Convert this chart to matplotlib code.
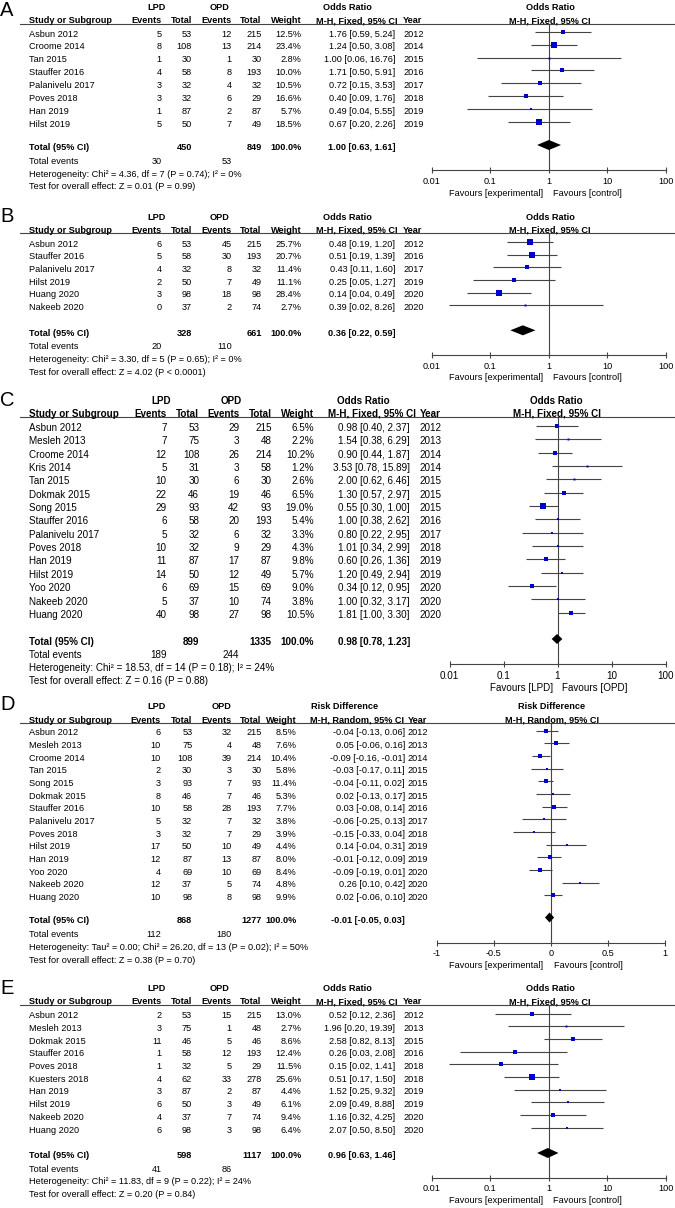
import matplotlib
matplotlib.use("Agg")
import matplotlib.pyplot as plt
from matplotlib.ticker import FixedLocator, NullLocator

plt.rcParams['font.family'] = ['Liberation Sans', 'DejaVu Sans']

W, H = 675, 1208
BLUE = '#0000cc'
GREY = '#444444'

# ---------------- panel A: odds ratio, M-H fixed ----------------
a_study = ["Asbun 2012", "Croome 2014", "Tan 2015", "Stauffer 2016",
           "Palanivelu 2017", "Poves 2018", "Han 2019", "Hilst 2019"]
a_lpd_ev = [5, 8, 1, 4, 3, 3, 1, 5]
a_lpd_n = [53, 108, 30, 58, 32, 32, 87, 50]
a_opd_ev = [12, 13, 1, 8, 4, 6, 2, 7]
a_opd_n = [215, 214, 30, 193, 32, 29, 87, 49]
a_weight = [12.5, 23.4, 2.8, 10.0, 10.5, 16.6, 5.7, 18.5]
a_est = [1.76, 1.24, 1.00, 1.71, 0.72, 0.40, 0.49, 0.67]
a_lo = [0.59, 0.50, 0.06, 0.50, 0.15, 0.09, 0.04, 0.20]
a_hi = [5.24, 3.08, 16.76, 5.91, 3.53, 1.76, 5.55, 2.26]
a_year = [2012, 2014, 2015, 2016, 2017, 2018, 2019, 2019]
a_total = [450, 849, 1.00, 0.63, 1.61]
a_events = [30, 53]
a_het = "Heterogeneity: Chi² = 4.36, df = 7 (P = 0.74); I² = 0%"
a_test = "Test for overall effect: Z = 0.01 (P = 0.99)"

# ---------------- panel B ----------------
b_study = ["Asbun 2012", "Stauffer 2016", "Palanivelu 2017", "Hilst 2019",
           "Huang 2020", "Nakeeb 2020"]
b_lpd_ev = [6, 5, 4, 2, 3, 0]
b_lpd_n = [53, 58, 32, 50, 98, 37]
b_opd_ev = [45, 30, 8, 7, 18, 2]
b_opd_n = [215, 193, 32, 49, 98, 74]
b_weight = [25.7, 20.7, 11.4, 11.1, 28.4, 2.7]
b_est = [0.48, 0.51, 0.43, 0.25, 0.14, 0.39]
b_lo = [0.19, 0.19, 0.11, 0.05, 0.04, 0.02]
b_hi = [1.20, 1.39, 1.60, 1.27, 0.49, 8.26]
b_year = [2012, 2016, 2017, 2019, 2020, 2020]
b_total = [328, 661, 0.36, 0.22, 0.59]
b_events = [20, 110]
b_het = "Heterogeneity: Chi² = 3.30, df = 5 (P = 0.65); I² = 0%"
b_test = "Test for overall effect: Z = 4.02 (P < 0.0001)"

# ---------------- panel C ----------------
c_study = ["Asbun 2012", "Mesleh 2013", "Croome 2014", "Kris 2014", "Tan 2015",
           "Dokmak 2015", "Song 2015", "Stauffer 2016", "Palanivelu 2017",
           "Poves 2018", "Han 2019", "Hilst 2019", "Yoo 2020", "Nakeeb 2020",
           "Huang 2020"]
c_lpd_ev = [7, 7, 12, 5, 10, 22, 29, 6, 5, 10, 11, 14, 6, 5, 40]
c_lpd_n = [53, 75, 108, 31, 30, 46, 93, 58, 32, 32, 87, 50, 69, 37, 98]
c_opd_ev = [29, 3, 26, 3, 6, 19, 42, 20, 6, 9, 17, 12, 15, 10, 27]
c_opd_n = [215, 48, 214, 58, 30, 46, 93, 193, 32, 29, 87, 49, 69, 74, 98]
c_weight = [6.5, 2.2, 10.2, 1.2, 2.6, 6.5, 19.0, 5.4, 3.3, 4.3, 9.8, 5.7, 9.0, 3.8, 10.5]
c_est = [0.98, 1.54, 0.90, 3.53, 2.00, 1.30, 0.55, 1.00, 0.80, 1.01, 0.60, 1.20, 0.34, 1.00, 1.81]
c_lo = [0.40, 0.38, 0.44, 0.78, 0.62, 0.57, 0.30, 0.38, 0.22, 0.34, 0.26, 0.49, 0.12, 0.32, 1.00]
c_hi = [2.37, 6.29, 1.87, 15.89, 6.46, 2.97, 1.00, 2.62, 2.95, 2.99, 1.36, 2.94, 0.95, 3.17, 3.30]
c_year = [2012, 2013, 2014, 2014, 2015, 2015, 2015, 2016, 2017, 2018, 2019, 2019, 2020, 2020, 2020]
c_total = [899, 1335, 0.98, 0.78, 1.23]
c_events = [189, 244]
c_het = "Heterogeneity: Chi² = 18.53, df = 14 (P = 0.18); I² = 24%"
c_test = "Test for overall effect: Z = 0.16 (P = 0.88)"

# ---------------- panel D: risk difference, M-H random ----------------
d_study = ["Asbun 2012", "Mesleh 2013", "Croome 2014", "Tan 2015", "Song 2015",
           "Dokmak 2015", "Stauffer 2016", "Palanivelu 2017", "Poves 2018",
           "Hilst 2019", "Han 2019", "Yoo 2020", "Nakeeb 2020", "Huang 2020"]
d_lpd_ev = [6, 10, 10, 2, 3, 8, 10, 5, 3, 17, 12, 4, 12, 10]
d_lpd_n = [53, 75, 108, 30, 93, 46, 58, 32, 32, 50, 87, 69, 37, 98]
d_opd_ev = [32, 4, 39, 3, 7, 7, 28, 7, 7, 10, 13, 10, 5, 8]
d_opd_n = [215, 48, 214, 30, 93, 46, 193, 32, 29, 49, 87, 69, 74, 98]
d_weight = [8.5, 7.6, 10.4, 5.8, 11.4, 5.3, 7.7, 3.8, 3.9, 4.4, 8.0, 8.4, 4.8, 9.9]
d_est = [-0.04, 0.05, -0.09, -0.03, -0.04, 0.02, 0.03, -0.06, -0.15, 0.14, -0.01, -0.09, 0.26, 0.02]
d_lo = [-0.13, -0.06, -0.16, -0.17, -0.11, -0.13, -0.08, -0.25, -0.33, -0.04, -0.12, -0.19, 0.10, -0.06]
d_hi = [0.06, 0.16, -0.01, 0.11, 0.02, 0.17, 0.14, 0.13, 0.04, 0.31, 0.09, 0.01, 0.42, 0.10]
d_year = [2012, 2013, 2014, 2015, 2015, 2015, 2016, 2017, 2018, 2019, 2019, 2020, 2020, 2020]
d_total = [868, 1277, -0.01, -0.05, 0.03]
d_events = [112, 180]
d_het = "Heterogeneity: Tau² = 0.00; Chi² = 26.20, df = 13 (P = 0.02); I² = 50%"
d_test = "Test for overall effect: Z = 0.38 (P = 0.70)"

# ---------------- panel E ----------------
e_study = ["Asbun 2012", "Mesleh 2013", "Dokmak 2015", "Stauffer 2016", "Poves 2018",
           "Kuesters 2018", "Han 2019", "Hilst 2019", "Nakeeb 2020", "Huang 2020"]
e_lpd_ev = [2, 3, 11, 1, 1, 4, 3, 6, 4, 6]
e_lpd_n = [53, 75, 46, 58, 32, 62, 87, 50, 37, 98]
e_opd_ev = [15, 1, 5, 12, 5, 33, 2, 3, 7, 3]
e_opd_n = [215, 48, 46, 193, 29, 278, 87, 49, 74, 98]
e_weight = [13.0, 2.7, 8.6, 12.4, 11.5, 25.6, 4.4, 6.1, 9.4, 6.4]
e_est = [0.52, 1.96, 2.58, 0.26, 0.15, 0.51, 1.52, 2.09, 1.16, 2.07]
e_lo = [0.12, 0.20, 0.82, 0.03, 0.02, 0.17, 0.25, 0.49, 0.32, 0.50]
e_hi = [2.36, 19.39, 8.13, 2.08, 1.41, 1.50, 9.32, 8.88, 4.25, 8.50]
e_year = [2012, 2013, 2015, 2016, 2018, 2018, 2019, 2019, 2020, 2020]
e_total = [598, 1117, 0.96, 0.63, 1.46]
e_events = [41, 86]
e_het = "Heterogeneity: Chi² = 11.83, df = 9 (P = 0.22); I² = 24%"
e_test = "Test for overall effect: Z = 0.20 (P = 0.84)"

or_ticks = [0.01, 0.1, 1, 10, 100]
or_ticklabels = ["0.01", "0.1", "1", "10", "100"]
rd_ticks = [-1, -0.5, 0, 0.5, 1]
rd_ticklabels = ["-1", "-0.5", "0", "0.5", "1"]

# layout of each panel in pixels (y grows downwards)
cols_ab = dict(name=29, ev1=161.5, n1=192, ev2=231.7, n2=261.7, wt=301.7, ci=395,
               year=403, cihdr=398, mcenter=347, lpd=156.7, opd=220,
               x0=431.7, x1=666, pcenter=550, favl=543, favr=553)
cols_c = dict(name=29, ev1=166.7, n1=199.3, ev2=239.3, n2=271.7, wt=314, ci=410,
              year=420, cihdr=416, mcenter=363.5, lpd=160.8, opd=231.7,
              x0=449.5, x1=665.5, pcenter=556.7, favl=553, favr=562)
cols_d = dict(name=29, ev1=160.7, n1=192.3, ev2=231.7, n2=261.7, wt=296.7, ci=405,
              year=407.5, cihdr=404, mcenter=345, lpd=156.7, opd=221.7,
              x0=436.7, x1=664.7, pcenter=551.7, favl=543.3, favr=554)

fig = plt.figure(figsize=(W / 100, H / 100), dpi=100)
ov = fig.add_axes([0, 0, 1, 1])
ov.set_xlim(0, W)
ov.set_ylim(H, 0)
ov.axis('off')


def put(x, y, s, ha='left', bold=False, fs=6.6):
    # y is the visual middle of the capitals
    ov.text(x, y + 0.5 * fs, s, ha=ha, va='baseline', fontsize=fs,
            fontweight='bold' if bold else 'normal', color='black')


def panel(letter, c, y, fs, study, ev1, n1, ev2, n2, wt, est, lo, hi, year,
          total, events, het, test, measure, method, favs, log=True):
    ov.text(0, y['label'], letter, fontsize=14.5, va='center', ha='left')
    # headers
    put(c['lpd'], y['h1'], "LPD", 'center', True, fs)
    put(c['opd'], y['h1'], "OPD", 'center', True, fs)
    put(c['mcenter'], y['h1'], measure, 'center', True, fs)
    put(c['pcenter'], y['h1'], measure, 'center', True, fs)
    put(c['name'], y['h2'], "Study or Subgroup", 'left', True, fs)
    put(c['ev1'], y['h2'], "Events", 'right', True, fs)
    put(c['n1'], y['h2'], "Total", 'right', True, fs)
    put(c['ev2'], y['h2'], "Events", 'right', True, fs)
    put(c['n2'], y['h2'], "Total", 'right', True, fs)
    put(c['wt'], y['h2'], "Weight", 'right', True, fs)
    put(c['cihdr'], y['h2'], method, 'right', True, fs)
    put(c['year'], y['h2'], "Year", 'left', True, fs)
    put(c['pcenter'], y['h2'], method, 'center', True, fs)
    ov.plot([20, W], [y['line'], y['line']], color=GREY, lw=0.8)

    rows = [y['row0'] + i * y['pitch'] for i in range(len(study))]
    for i, ry in enumerate(rows):
        put(c['name'], ry, study[i], fs=fs)
        put(c['ev1'], ry, str(ev1[i]), 'right', fs=fs)
        put(c['n1'], ry, str(n1[i]), 'right', fs=fs)
        put(c['ev2'], ry, str(ev2[i]), 'right', fs=fs)
        put(c['n2'], ry, str(n2[i]), 'right', fs=fs)
        put(c['wt'], ry, f"{wt[i]:.1f}%", 'right', fs=fs)
        put(c['ci'], ry, f"{est[i]:.2f} [{lo[i]:.2f}, {hi[i]:.2f}]", 'right', fs=fs)
        put(c['year'], ry, str(year[i]), 'left', fs=fs)

    # totals
    put(c['name'], y['total'], "Total (95% CI)", 'left', True, fs)
    put(c['n1'], y['total'], str(total[0]), 'right', True, fs)
    put(c['n2'], y['total'], str(total[1]), 'right', True, fs)
    put(c['wt'], y['total'], "100.0%", 'right', True, fs)
    put(c['ci'], y['total'], f"{total[2]:.2f} [{total[3]:.2f}, {total[4]:.2f}]",
        'right', True, fs)
    put(c['name'], y['events'], "Total events", fs=fs)
    put(c['ev1'], y['events'], str(events[0]), 'right', fs=fs)
    put(c['ev2'], y['events'], str(events[1]), 'right', fs=fs)
    put(c['name'], y['het'], het, fs=fs)
    put(c['name'], y['test'], test, fs=fs)

    # forest plot
    ax = fig.add_axes([c['x0'] / W, 1 - y['axis'] / H, (c['x1'] - c['x0']) / W,
                       (y['axis'] - y['line']) / H])
    ax.patch.set_alpha(0)
    if log:
        ax.set_xscale('log')
        ax.set_xlim(0.01, 100)
        ticks, labels, null = or_ticks, or_ticklabels, 1
    else:
        ax.set_xlim(-1, 1)
        ticks, labels, null = rd_ticks, rd_ticklabels, 0
    ax.set_ylim(y['axis'], y['line'])
    ax.axvline(null, color=GREY, lw=0.8, zorder=1)
    mk = [r - 1.5 for r in rows]
    ax.hlines(mk, lo, hi, color=GREY, lw=0.8, zorder=2)
    for i in range(len(study)):
        ax.plot(est[i], mk[i], marker='s', color=BLUE, mec=BLUE, mew=0,
                markersize=max(0.85 * wt[i] ** 0.5, 1.4), zorder=3)
    yc = y['total'] - 2
    ax.fill([total[3], total[2], total[4], total[2]], [yc, yc - 5, yc, yc + 5],
            color='black', zorder=3, lw=0)

    for s in ['top', 'left', 'right']:
        ax.spines[s].set_visible(False)
    ax.spines['bottom'].set_color(GREY)
    ax.spines['bottom'].set_linewidth(0.8)
    ax.set_yticks([])
    ax.xaxis.set_major_locator(FixedLocator(ticks))
    ax.xaxis.set_minor_locator(NullLocator())
    ax.set_xticklabels(labels)
    ax.tick_params(axis='x', direction='inout', length=4.5, width=0.8, color=GREY,
                   labelsize=fs, pad=2.5)

    put(c['favl'], y['fav'], favs[0], 'right', fs=fs)
    put(c['favr'], y['fav'], favs[1], 'left', fs=fs)


fav_ec = ("Favours [experimental]", "Favours [control]")

panel("A", cols_ab,
      dict(label=10, h1=6.5, h2=20, line=23.5, row0=33.3, pitch=12.86, total=147,
           events=161, het=174, test=186, axis=170, fav=192.7),
      6.6, a_study, a_lpd_ev, a_lpd_n, a_opd_ev, a_opd_n, a_weight, a_est, a_lo,
      a_hi, a_year, a_total, a_events, a_het, a_test,
      "Odds Ratio", "M-H, Fixed, 95% CI", fav_ec)

panel("B", cols_ab,
      dict(label=216, h1=217, h2=229.5, line=233, row0=243.3, pitch=12.7, total=332.3,
           events=345.7, het=358.7, test=371.7, axis=355, fav=376.7),
      6.6, b_study, b_lpd_ev, b_lpd_n, b_opd_ev, b_opd_n, b_weight, b_est, b_lo,
      b_hi, b_year, b_total, b_events, b_het, b_test,
      "Odds Ratio", "M-H, Fixed, 95% CI", fav_ec)

panel("C", cols_c,
      dict(label=401, h1=400, h2=413, line=417.3, row0=427.3, pitch=13.36, total=641,
           events=654.3, het=667, test=680, axis=664, fav=687),
      7.1, c_study, c_lpd_ev, c_lpd_n, c_opd_ev, c_opd_n, c_weight, c_est, c_lo,
      c_hi, c_year, c_total, c_events, c_het, c_test,
      "Odds Ratio", "M-H, Fixed, 95% CI", ("Favours [LPD]", "Favours [OPD]"))

panel("D", cols_d,
      dict(label=704, h1=706, h2=719.5, line=723, row0=732, pitch=12.68, total=919.5,
           events=934, het=947, test=959.5, axis=942.7, fav=964.3),
      6.6, d_study, d_lpd_ev, d_lpd_n, d_opd_ev, d_opd_n, d_weight, d_est, d_lo,
      d_hi, d_year, d_total, d_events, d_het, d_test,
      "Risk Difference", "M-H, Random, 95% CI", fav_ec, log=False)

panel("E", cols_ab,
      dict(label=989, h1=987.7, h2=1001, line=1004.7, row0=1015, pitch=12.7, total=1155,
           events=1168.3, het=1181, test=1194, axis=1177.7, fav=1200),
      6.6, e_study, e_lpd_ev, e_lpd_n, e_opd_ev, e_opd_n, e_weight, e_est, e_lo,
      e_hi, e_year, e_total, e_events, e_het, e_test,
      "Odds Ratio", "M-H, Fixed, 95% CI", fav_ec)

fig.savefig("out.png", dpi=100)
